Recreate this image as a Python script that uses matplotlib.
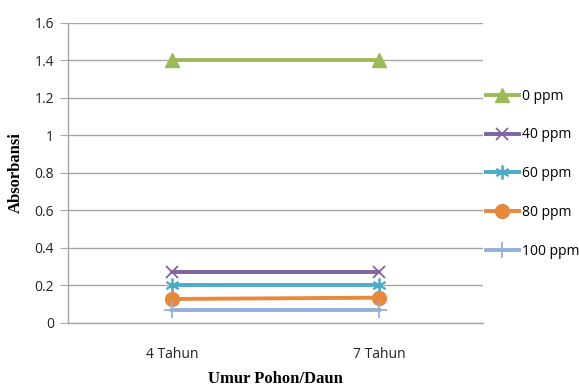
import matplotlib
matplotlib.use("Agg")
import matplotlib.pyplot as plt

categories = ["4 Tahun", "7 Tahun"]
series_names = ["0 ppm", "40 ppm", "60 ppm", "80 ppm", "100 ppm"]
v0 = [1.40, 1.40]
v40 = [0.27, 0.27]
v60 = [0.20, 0.20]
v80 = [0.128, 0.135]
v100 = [0.068, 0.068]
y_ticks = [0, 0.2, 0.4, 0.6, 0.8, 1, 1.2, 1.4, 1.6]
y_tick_labels = ["0", "0.2", "0.4", "0.6", "0.8", "1", "1.2", "1.4", "1.6"]

colors = ["#9BBB59", "#8064A2", "#4BACC6", "#E8883A", "#95B0D8"]
markers = ["^", "x", (6, 2, 0), "o", "+"]
msizes = [10, 9, 10, 10, 11]
series = [v0, v40, v60, v80, v100]

fig = plt.figure(figsize=(5.79, 3.89), dpi=100)
ax = fig.add_axes([68/579, (389-323)/389, (483-68)/579, (323-22.7)/389])

x = list(range(len(categories)))
for name, vals, c, m, ms in zip(series_names, series, colors, markers, msizes):
    ax.plot(x, vals, color=c, lw=2.8, marker=m, markersize=ms,
            markeredgewidth=1.3 if m in ("x", "+") or isinstance(m, tuple) else 1,
            markeredgecolor=c, markerfacecolor=c, label=name, zorder=3)

ax.set_xlim(-0.5, 1.5)
ax.set_ylim(0, 1.6)
ax.set_yticks(y_ticks)
ax.set_yticklabels(y_tick_labels)
ax.set_xticks(x)
ax.set_xticklabels(categories)
ax.yaxis.grid(True, color="#A6A6A6", lw=1.0)
ax.set_axisbelow(True)
for s in ["top", "right"]:
    ax.spines[s].set_visible(False)
for s in ["left", "bottom"]:
    ax.spines[s].set_color("#A6A6A6")
    ax.spines[s].set_linewidth(1.0)
ax.tick_params(axis="y", length=6, color="#A6A6A6", pad=4)
ax.tick_params(axis="x", length=0, pad=17)
for lab in ax.get_xticklabels() + ax.get_yticklabels():
    lab.set_fontfamily("Open Sans")
    lab.set_fontsize(10)
    lab.set_color("#222222")

ax.set_xlabel("Umur Pohon/Daun", fontfamily="Liberation Serif", fontweight="bold",
              fontsize=12, labelpad=7)
ax.set_ylabel("Absorbansi", fontfamily="Liberation Serif", fontweight="bold",
              fontsize=12, labelpad=8)

leg = ax.legend(loc="upper left", bbox_to_anchor=(483/579 - 0.005, (389-83)/389),
                bbox_transform=fig.transFigure, frameon=False,
                handlelength=2.4, handletextpad=0.2, labelspacing=1.72,
                prop={"family": "Open Sans", "size": 10}, borderaxespad=0)

fig.savefig("out.png", dpi=100)
